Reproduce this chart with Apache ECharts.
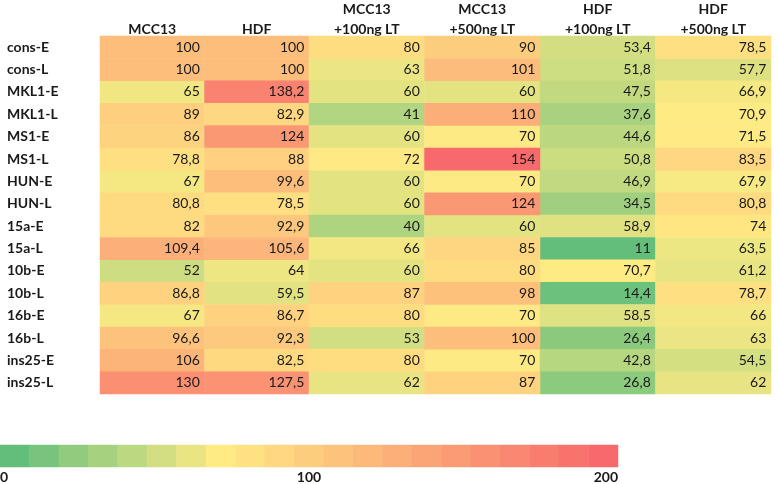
<!DOCTYPE html>
<html>
<head>
<meta charset="utf-8">
<script src="https://cdn.jsdelivr.net/npm/echarts@6/dist/echarts.min.js"></script>
<style>
  html, body { margin: 0; padding: 0; background: #fff; }
  #chart { width: 778px; height: 484px; }
</style>
</head>
<body>
<div id="chart"></div>
<script>
// ---- data ----
const rows = ['cons-E','cons-L','MKL1-E','MKL1-L','MS1-E','MS1-L','HUN-E','HUN-L','15a-E','15a-L','10b-E','10b-L','16b-E','16b-L','ins25-E','ins25-L'];
const colsA = ['MCC13', 'HDF'];
const colsB = ['MCC13\n+100ng LT', 'MCC13\n+500ng LT', 'HDF\n+100ng LT', 'HDF\n+500ng LT'];

const mcc13     = [100, 100, 65, 89, 86, 78.8, 67, 80.8, 82, 109.4, 52, 86.8, 67, 96.6, 106, 130];
const hdf       = [100, 100, 138.2, 82.9, 124, 88, 99.6, 78.5, 92.9, 105.6, 64, 59.5, 86.7, 92.3, 82.5, 127.5];
const mcc13_100 = [80, 63, 60, 41, 60, 72, 60, 60, 40, 66, 60, 87, 80, 53, 80, 62];
const mcc13_500 = [90, 101, 60, 110, 70, 154, 70, 124, 60, 85, 80, 98, 70, 100, 70, 87];
const hdf_100   = [53.4, 51.8, 47.5, 37.6, 44.6, 50.8, 46.9, 34.5, 58.9, 11, 70.7, 14.4, 58.5, 26.4, 42.8, 26.8];
const hdf_500   = [78.5, 57.7, 66.9, 70.9, 71.5, 83.5, 67.9, 80.8, 74, 63.5, 61.2, 78.7, 66, 63, 54.5, 62];

// colour-bar legend steps and its tick labels
const legendSteps = [0, 10, 20, 30, 40, 50, 60, 70, 80, 90, 100, 110, 120, 130, 140, 150, 160, 170, 180, 190, 200];
const legendMin = 0, legendMid = 70, legendMax = 200, legendTickStep = 100;

// ---- build ----
const groupA = [mcc13, hdf];
const groupB = [mcc13_100, mcc13_500, hdf_100, hdf_500];
const all = groupA.concat(groupB).flat();
const sorted = all.slice().sort((a, b) => a - b);
const n = sorted.length;
const median = n % 2 ? sorted[(n - 1) / 2] : (sorted[n / 2 - 1] + sorted[n / 2]) / 2;
const minV = sorted[0], maxV = sorted[n - 1];

function cells(group, low) {
  const out = [];
  group.forEach((col, ci) => col.forEach((v, ri) => {
    if ((v <= median) === low) out.push([ci, ri, v]);
  }));
  return out;
}

const GREEN = '#63BE7B', YELLOW = '#FFEB84', RED = '#F8696B';
const FONT = 'Lato';
const TXT = '#1a1a1a';

const cellLabel = {
  show: true, position: 'insideRight', distance: 5,
  color: TXT, fontSize: 14, fontFamily: FONT,
  formatter: p => String(p.value[2]).replace('.', ',')
};
const headLabel = {
  interval: 0, color: TXT, fontSize: 14, fontWeight: 'bold', fontFamily: FONT,
  lineHeight: 20, margin: -3
};
function hm(xi, yi, data, label) {
  return {
    type: 'heatmap', xAxisIndex: xi, yAxisIndex: yi, data: data,
    label: label ? cellLabel : { show: false },
    itemStyle: { borderWidth: 0 },
    emphasis: { disabled: true }, silent: true, progressive: 0
  };
}
const noLines = { axisLine: { show: false }, axisTick: { show: false }, splitLine: { show: false }, splitArea: { show: false } };

const legendLow = legendSteps.filter(v => v <= legendMid).map(v => [legendSteps.indexOf(v), 0, v]);
const legendHigh = legendSteps.filter(v => v > legendMid).map(v => [legendSteps.indexOf(v), 0, v]);

const option = {
  backgroundColor: '#fff',
  animation: false,
  grid: [
    { left: 100, top: 36, width: 209, height: 358, containLabel: false, outerBoundsMode: 'none' },
    { left: 309, top: 36, width: 462, height: 358, containLabel: false, outerBoundsMode: 'none' },
    { left: 0, top: 445, width: 618, height: 22, containLabel: false, outerBoundsMode: 'none' }
  ],
  xAxis: [
    Object.assign({ type: 'category', gridIndex: 0, data: colsA, position: 'top', axisLabel: headLabel }, noLines),
    Object.assign({ type: 'category', gridIndex: 1, data: colsB, position: 'top', axisLabel: headLabel }, noLines),
    { type: 'category', gridIndex: 2, data: legendSteps.map(String), show: false },
    Object.assign({
      type: 'value', gridIndex: 2, position: 'bottom', min: legendMin, max: legendMax, interval: legendTickStep,
      axisLabel: { color: TXT, fontSize: 14, fontWeight: 'bold', fontFamily: FONT, margin: 3,
                   alignMinLabel: 'left', alignMaxLabel: 'right' }
    }, noLines)
  ],
  yAxis: [
    Object.assign({ type: 'category', gridIndex: 0, data: rows, inverse: true,
      axisLabel: { interval: 0, align: 'left', margin: 93, color: TXT, fontSize: 14, fontWeight: 'bold', fontFamily: FONT } }, noLines),
    { type: 'category', gridIndex: 1, data: rows, inverse: true, show: false },
    { type: 'category', gridIndex: 2, data: ['scale'], show: false }
  ],
  visualMap: [
    { type: 'continuous', show: false, seriesIndex: [0, 2], dimension: 2, min: minV, max: median, inRange: { color: [GREEN, YELLOW] } },
    { type: 'continuous', show: false, seriesIndex: [1, 3], dimension: 2, min: median, max: maxV, inRange: { color: [YELLOW, RED] } },
    { type: 'continuous', show: false, seriesIndex: [4], dimension: 2, min: legendMin, max: legendMid, inRange: { color: [GREEN, YELLOW] } },
    { type: 'continuous', show: false, seriesIndex: [5], dimension: 2, min: legendMid, max: legendMax, inRange: { color: [YELLOW, RED] } }
  ],
  series: [
    hm(0, 0, cells(groupA, true), true),
    hm(0, 0, cells(groupA, false), true),
    hm(1, 1, cells(groupB, true), true),
    hm(1, 1, cells(groupB, false), true),
    hm(2, 2, legendLow, false),
    hm(2, 2, legendHigh, false)
  ]
};

const chart = echarts.init(document.getElementById('chart'), null, { renderer: 'canvas' });
chart.setOption(option);
</script>
</body>
</html>
